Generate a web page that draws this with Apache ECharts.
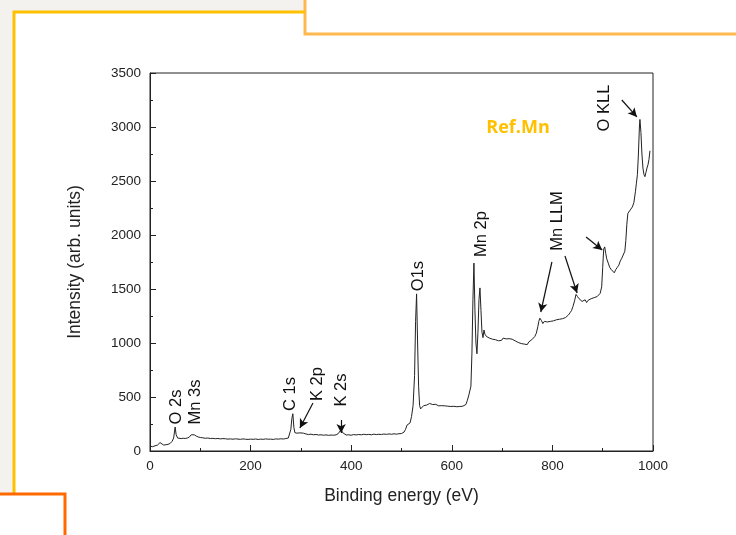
<!DOCTYPE html>
<html>
<head>
<meta charset="utf-8">
<script src="https://cdn.jsdelivr.net/npm/echarts@6/dist/echarts.min.js"></script>
<style>
  html, body { margin: 0; padding: 0; background: #f4f2ee; }
  #main { width: 736px; height: 535px; }
</style>
</head>
<body>
<div id="main"></div>
<script>
// XPS survey spectrum, Ref.Mn
// binding energy (eV) / intensity (arb. units)
var energy = [
  0, 5, 10, 15, 20, 23, 27, 32, 36, 40, 44, 47, 50, 52, 55, 58, 62, 66, 70, 74, 78, 82, 85, 88, 92, 96,
  100, 105, 110, 115, 120, 125, 130, 135, 140, 145, 150, 155, 160, 165, 170, 175, 180, 185, 190, 195,
  200, 205, 210, 215, 220, 225, 230, 235, 240, 245, 250, 255, 260, 265, 270, 275, 278, 280, 282, 284,
  286, 288, 290, 292, 295, 298, 301, 305, 310, 315, 320, 325, 330, 335, 340, 345, 350, 355, 360, 365,
  370, 374, 377, 380, 383, 386, 390, 395, 400, 405, 410, 415, 420, 425, 430, 435, 440, 445, 450, 455,
  460, 465, 470, 475, 480, 485, 490, 495, 500, 505, 508, 511, 514, 517, 520, 523, 526, 528, 530, 532,
  534, 536, 538, 541, 544, 547, 550, 553, 556, 559, 562, 565, 568, 571, 574, 577, 580, 583, 586, 589,
  592, 595, 598, 601, 604, 607, 610, 613, 616, 619, 622, 625, 628, 631, 634, 636, 638, 640, 642, 644,
  646, 648, 650, 652, 654, 656, 658, 660, 662, 664, 666, 669, 672, 675, 678, 681, 684, 687, 690, 693,
  696, 699, 702, 705, 708, 711, 714, 717, 720, 723, 726, 729, 732, 735, 738, 741, 744, 747, 750, 753,
  756, 759, 762, 765, 768, 771, 773, 775, 778, 781, 784, 787, 790, 793, 796, 799, 802, 805, 808, 811,
  814, 817, 820, 823, 826, 829, 832, 835, 838, 841, 844, 847, 850, 853, 856, 859, 862, 865, 868, 871,
  874, 877, 880, 883, 886, 889, 892, 895, 898, 900, 902, 904, 906, 908, 911, 914, 917, 920, 923, 926,
  929, 932, 935, 938, 941, 944, 946, 948, 950, 953, 956, 959, 962, 965, 967, 969, 971, 973, 974, 976,
  978, 980, 982, 984, 986, 988, 990, 992, 994
];
var intensity = [
  45, 40, 48, 55, 78, 60, 55, 58, 62, 70, 90, 120, 222, 150, 120, 112, 115, 118, 116, 120, 128, 150, 165, 150, 138, 130,
  125, 122, 118, 120, 116, 117, 114, 116, 112, 115, 113, 110, 112, 109, 113, 110, 108, 112, 109, 107,
  110, 108, 111, 107, 110, 108, 112, 109, 110, 107, 112, 110, 113, 111, 115, 120, 135, 200, 300, 345,
  220, 170, 180, 165, 175, 168, 160, 165, 158, 152, 156, 150, 153, 148, 150, 146, 149, 145, 148, 146,
  150, 160, 175, 198, 170, 152, 148, 150, 146, 152, 149, 153, 150, 155, 151, 154, 150, 156, 152, 155,
  153, 157, 154, 158, 155, 159, 156, 160, 162, 175, 200, 240, 225, 260, 320, 420, 700, 1200, 1455, 1000,
  600, 420, 390, 400, 420, 410, 425, 415, 440, 428, 430, 420, 432, 425, 418, 428, 420, 426, 418, 424,
  415, 422, 412, 420, 414, 422, 410, 418, 412, 420, 415, 420, 430, 470, 520, 510, 600, 900, 1400, 1740,
  1300, 1000, 900, 1100, 1400, 1510, 1300, 1100, 1050, 1120, 1080, 1060, 1070, 1045, 1055, 1035, 1045, 1030, 1040, 1020,
  1035, 1025, 1045, 1030, 1038, 1050, 1040, 1050, 1035, 1045, 1020, 1030, 1005, 1015, 995, 1010, 990, 1000, 985, 1010,
  1005, 1030, 1045, 1060, 1090, 1150, 1200, 1230, 1210, 1180, 1200, 1185, 1195, 1180, 1200, 1190, 1205, 1195, 1215, 1200,
  1220, 1210, 1225, 1215, 1235, 1245, 1260, 1280, 1300, 1340, 1390, 1450, 1430, 1410, 1420, 1385, 1380, 1400, 1375, 1395,
  1390, 1410, 1400, 1420, 1410, 1430, 1440, 1460, 1520, 1700, 1870, 1890, 1830, 1780, 1740, 1700, 1680, 1665, 1650, 1680,
  1700, 1720, 1760, 1785, 1800, 1850, 1950, 2100, 2200, 2215, 2240, 2260, 2300, 2400, 2480, 2560, 2750, 3000, 3070, 2950,
  2750, 2620, 2560, 2540, 2580, 2620, 2650, 2700, 2780
];

// peak labels (rotated), centred at [energy, intensity]
var peakNames = ['O 2s', 'Mn 3s', 'C 1s', 'K 2p', 'K 2s', 'O1s', 'Mn 2p', 'Mn LLM', 'O KLL'];
var peakLabelAt = [[52, 407], [91, 454], [280, 528], [332, 620], [380, 565], [533, 1620], [658, 2009], [811, 2130], [903, 3176]];

// arrows: [from, to] in data coords
var arrowLines = [
  [[324, 444], [298, 213]],
  [[380, 287], [380, 167]],
  [[799, 1750], [777, 1287]],
  [[825, 1806], [849, 1463]],
  [[867, 1981], [899, 1861]],
  [[938, 3250], [968, 3093]]
];

var xTicks = [0, 1000, 200];   // min, max, interval
var yTicks = [0, 3500, 500];

var spectrum = energy.map(function (e, i) { return [e, intensity[i]]; });

const Chart = echarts.init(document.getElementById('main'), null, { renderer: 'canvas' });

var FONT = '"Liberation Sans", Arial, sans-serif';
var axisText = { color: '#222', fontFamily: FONT, fontSize: 13.5, formatter: function (v) { return String(v); } };

var option = {
    animation: false,
    backgroundColor: 'transparent',
    grid: {
        left: 150, right: 83, top: 73, bottom: 84,
        show: true, borderColor: '#222', borderWidth: 1, backgroundColor: 'transparent'
    },
    xAxis: {
        type: 'value',
        min: xTicks[0], max: xTicks[1], interval: xTicks[2],
        name: 'Binding energy (eV)',
        nameLocation: 'middle',
        nameGap: 36,
        nameTextStyle: { color: '#222', fontFamily: FONT, fontSize: 17.5 },
        axisLine: { lineStyle: { color: '#222', width: 1 } },
        axisTick: { inside: true, length: 6, lineStyle: { color: '#222' } },
        minorTick: { show: true, splitNumber: 2, length: 3, lineStyle: { color: '#222' } },
        axisLabel: Object.assign({ margin: 8 }, axisText),
        splitLine: { show: false }
    },
    yAxis: {
        type: 'value',
        min: yTicks[0], max: yTicks[1], interval: yTicks[2],
        name: 'Intensity (arb. units)',
        nameLocation: 'middle',
        nameGap: 66,
        nameTextStyle: { color: '#222', fontFamily: FONT, fontSize: 17.5 },
        axisLine: { show: true, lineStyle: { color: '#222', width: 1 } },
        axisTick: { inside: true, length: 6, lineStyle: { color: '#222' } },
        minorTick: { show: true, splitNumber: 2, length: 3, lineStyle: { color: '#222' } },
        axisLabel: Object.assign({ margin: 9 }, axisText),
        splitLine: { show: false }
    },
    series: [{
        type: 'line',
        data: spectrum,
        showSymbol: false,
        symbol: 'none',
        lineStyle: { color: '#222', width: 1 },
        markLine: {
            silent: true,
            symbol: ['none', 'arrow'],
            symbolSize: [7, 9],
            label: { show: false },
            lineStyle: { color: '#111', width: 1.2, type: 'solid' },
            data: arrowLines.map(function (a) {
                return [{ coord: a[0] }, { coord: a[1] }];
            })
        }
    }]
};
Chart.setOption(option, true);

// frame decoration + rotated peak labels
var deco = [
    { type: 'rect', shape: { x: 14, y: 12, width: 740, height: 600 }, style: { fill: '#fff' }, z: -10 },
    { type: 'rect', shape: { x: 305, y: -5, width: 440, height: 39 }, style: { fill: '#fff', stroke: '#ffb84d', lineWidth: 3 }, z: -5 },
    { type: 'polyline', shape: { points: [[14, 495], [14, 12], [305, 12]] }, style: { stroke: '#ffc000', lineWidth: 3, fill: null }, z: -4 },
    { type: 'rect', shape: { x: -5, y: 494, width: 70, height: 60 }, style: { fill: '#fff' }, z: -4 },
    { type: 'polyline', shape: { points: [[0, 494], [65, 494], [65, 540]] }, style: { stroke: '#ff6a00', lineWidth: 3, fill: null }, z: -3 },
    { type: 'text', x: 518, y: 128, style: { text: 'Ref.Mn', fill: '#ffc000', font: 'bold 18px "Open Sans", sans-serif', textAlign: 'center', textVerticalAlign: 'middle' } }
];
peakNames.forEach(function (name, i) {
    var p = Chart.convertToPixel({ seriesIndex: 0 }, peakLabelAt[i]);
    deco.push({
        type: 'text', x: p[0], y: p[1], rotation: Math.PI / 2,
        style: { text: name, fill: '#111', font: '16.5px ' + FONT, textAlign: 'center', textVerticalAlign: 'middle' }
    });
});
Chart.setOption({ graphic: deco });
</script>
</body>
</html>
